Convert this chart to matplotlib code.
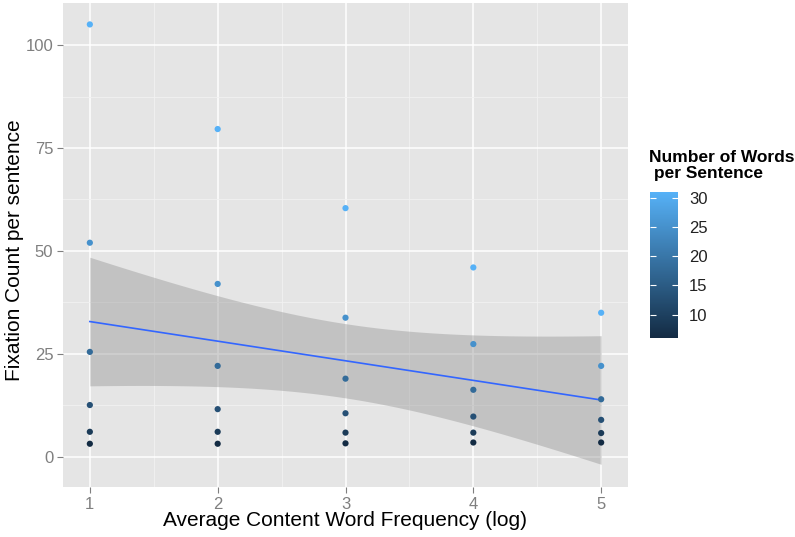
import numpy as np
import matplotlib
matplotlib.use('Agg')
import matplotlib.pyplot as plt
from matplotlib.colors import LinearSegmentedColormap, Normalize

plt.rcParams['font.family'] = ['Liberation Sans', 'DejaVu Sans']

# data
freq = [1, 1, 1, 1, 1, 1,
        2, 2, 2, 2, 2, 2,
        3, 3, 3, 3, 3, 3,
        4, 4, 4, 4, 4, 4,
        5, 5, 5, 5, 5, 5]
fixations = [105, 52, 25.5, 12.6, 6.1, 3.2,
             79.6, 42, 22.1, 11.6, 6.1, 3.2,
             60.4, 33.8, 19, 10.6, 5.9, 3.3,
             46, 27.4, 16.3, 9.8, 5.9, 3.5,
             35, 22.1, 14, 9, 5.8, 3.5]
words = [31, 25, 18, 13, 9, 6] * 5
cbar_ticks = [10, 15, 20, 25, 30]
x_ticks = [1, 2, 3, 4, 5]
y_ticks = [0, 25, 50, 75, 100]

x = np.array(freq, dtype=float)
y = np.array(fixations, dtype=float)

# linear fit with 95% confidence band (like geom_smooth(method='lm'))
slope, intercept = np.polyfit(x, y, 1)
n = len(x)
resid = y - (intercept + slope * x)
s = np.sqrt(np.sum(resid ** 2) / (n - 2))
sxx = np.sum((x - x.mean()) ** 2)
t_crit = 2.048
xs = np.linspace(x.min(), x.max(), 200)
fit = intercept + slope * xs
se = s * np.sqrt(1 / n + (xs - x.mean()) ** 2 / sxx)

fig = plt.figure(figsize=(7.95, 5.37), dpi=100)
ax = fig.add_axes([63 / 795, 50 / 537, 565 / 795, 484 / 537])
ax.set_facecolor('#E5E5E5')
for sp in ax.spines.values():
    sp.set_visible(False)

ax.set_xlim(0.79, 5.21)
ax.set_ylim(-7.3, 110.2)
ax.set_xticks(x_ticks)
ax.set_yticks(y_ticks)
ax.set_xticks([1.5, 2.5, 3.5, 4.5], minor=True)
ax.set_yticks([12.5, 37.5, 62.5, 87.5], minor=True)
ax.grid(which='major', color='white', lw=1.1)
ax.grid(which='minor', color='#F2F2F2', lw=0.6)
ax.set_axisbelow(True)
ax.tick_params(which='major', length=4, color='#7F7F7F', labelcolor='#7F7F7F', labelsize=12, pad=3)
ax.tick_params(which='minor', length=0)

cmap = LinearSegmentedColormap.from_list('gg', ['#132B43', '#56B1F7'])
norm = Normalize(vmin=min(words), vmax=max(words))

ax.fill_between(xs, fit - t_crit * se, fit + t_crit * se, color='#999999', alpha=0.45, lw=0, zorder=2)
ax.plot(xs, fit, color='#3366FF', lw=1.2, zorder=3)
sc = ax.scatter(x, y, c=words, cmap=cmap, norm=norm, s=20, lw=0, zorder=4)

fig.text(345 / 795, 1 - 520 / 537, 'Average Content Word Frequency (log)', fontsize=15,
         ha='center', va='center')
fig.text(15 / 795, 1 - 250 / 537, 'Fixation Count per sentence', fontsize=15,
         ha='center', va='center', rotation=90)

cax = fig.add_axes([650 / 795, (537 - 338) / 537, 28 / 795, 146 / 537])
cb = fig.colorbar(sc, cax=cax, ticks=cbar_ticks)
cb.outline.set_visible(False)
cax.tick_params(direction='in', color='white', length=4, width=0.8, left=True, right=True,
                labelsize=12, labelcolor='#222222', pad=8)
fig.text(649 / 795, 1 - 150 / 537, 'Number of Words\n per Sentence', fontsize=12.5,
         fontweight='bold', va='top', ha='left', linespacing=1.1)

fig.savefig('out.png', dpi=100)
